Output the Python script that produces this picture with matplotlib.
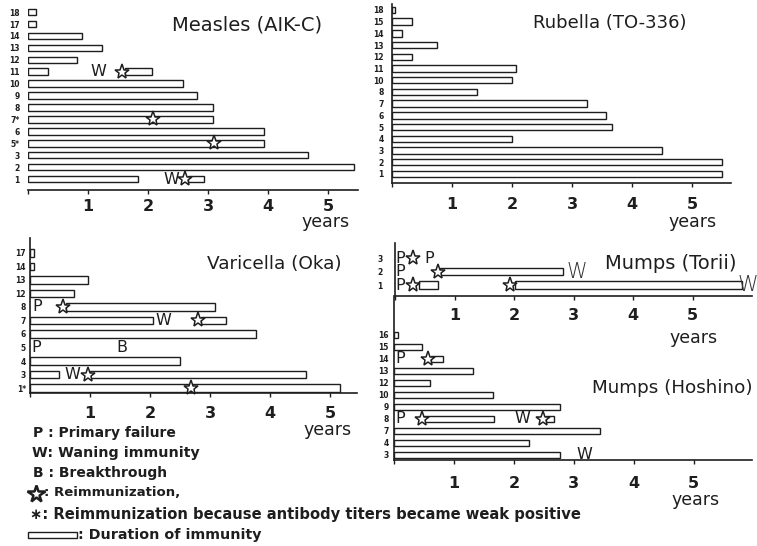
import matplotlib
matplotlib.use('Agg')
import matplotlib.pyplot as plt
from matplotlib.patches import Rectangle
from matplotlib.lines import Line2D

# ---------------- data ----------------
year_ticks = [0, 1, 2, 3, 4, 5]
year_labels = ['', '1', '2', '3', '4', '5']

# Measles (AIK-C) - rows listed top to bottom
measles_rows = ['18', '17', '14', '13', '12', '11', '10', '9', '8', '7*', '6', '5*', '3', '2', '1']
measles_bars = [('18', 0, 0.14), ('17', 0, 0.14), ('14', 0, 0.90), ('13', 0, 1.23),
                ('12', 0, 0.82), ('11', 0, 0.33), ('11', 1.62, 2.06), ('10', 0, 2.58),
                ('9', 0, 2.82), ('8', 0, 3.09), ('7*', 0, 3.09), ('6', 0, 3.93),
                ('5*', 0, 3.93), ('3', 0, 4.67), ('2', 0, 5.43), ('1', 0, 1.84),
                ('1', 2.67, 2.93)]
measles_stars = [('11', 1.56), ('7*', 2.08), ('5*', 3.10), ('1', 2.62)]
measles_letters = [('11', 1.17, 'W'), ('1', 2.39, 'W')]

# Rubella (TO-336)
rubella_rows = ['18', '15', '14', '13', '12', '11', '10', '8', '7', '6', '5', '4', '3', '2', '1']
rubella_bars = [('18', 0, 0.05), ('15', 0, 0.33), ('14', 0, 0.16), ('13', 0, 0.75),
                ('12', 0, 0.33), ('11', 0, 2.07), ('10', 0, 2.00), ('8', 0, 1.41),
                ('7', 0, 3.25), ('6', 0, 3.56), ('5', 0, 3.67), ('4', 0, 2.00),
                ('3', 0, 4.50), ('2', 0, 5.50), ('1', 0, 5.50)]

# Varicella (Oka)
varicella_rows = ['17', '14', '13', '12', '8', '7', '6', '5', '4', '3', '1*']
varicella_bars = [('17', 0, 0.06), ('14', 0, 0.06), ('13', 0, 0.97), ('12', 0, 0.73),
                  ('8', 0.60, 3.08), ('7', 0, 2.05), ('7', 2.85, 3.26), ('6', 0, 3.77),
                  ('4', 0, 2.50), ('3', 0, 0.49), ('3', 1.00, 4.60), ('1*', 0, 5.17)]
varicella_stars = [('8', 0.55), ('7', 2.80), ('3', 0.96), ('1*', 2.68)]
varicella_letters = [('8', 0.12, 'P'), ('7', 2.22, 'W'), ('5', 0.11, 'P'),
                     ('5', 1.53, 'B'), ('3', 0.71, 'W')]

# Mumps (Torii)
torii_rows = ['3', '2', '1']
torii_bars = [('2', 0.76, 2.82), ('1', 0.40, 0.73), ('1', 2.02, 5.83)]
torii_stars = [('3', 0.31), ('2', 0.73), ('1', 0.31), ('1', 1.93)]
torii_letters = [('3', 0.08, 'P'), ('3', 0.57, 'P'), ('2', 0.08, 'P'), ('1', 0.08, 'P')]
torii_big_w = [('2', 3.06), ('1', 5.93)]

# Mumps (Hoshino)
hoshino_rows = ['16', '15', '14', '13', '12', '10', '9', '8', '7', '4', '3']
hoshino_bars = [('16', 0, 0.06), ('15', 0, 0.46), ('14', 0.61, 0.82), ('13', 0, 1.31),
                ('12', 0, 0.60), ('10', 0, 1.65), ('9', 0, 2.76), ('8', 0.50, 1.66),
                ('8', 2.53, 2.67), ('7', 0, 3.43), ('4', 0, 2.25), ('3', 0, 2.76)]
hoshino_stars = [('14', 0.57), ('8', 0.46), ('8', 2.48)]
hoshino_letters = [('14', 0.11, 'P'), ('8', 0.11, 'P'), ('8', 2.14, 'W'), ('3', 3.17, 'W')]

legend_lines = ['P : Primary failure', 'W: Waning immunity', 'B : Breakthrough',
                ': Reimmunization,',
                '\u2217: Reimmunization because antibody titers became weak positive',
                ': Duration of immunity']

# ---------------- drawing ----------------
W, H = 757, 546
fig = plt.figure(figsize=(W / 100, H / 100), dpi=100)
fig.patch.set_facecolor('white')
INK = '#1e1e1e'
plt.rcParams['font.family'] = ['DejaVu Sans']


def fx(x):
    return x / W


def fy(y):
    return 1 - y / H


def make_axes(left, top, right, bottom):
    return fig.add_axes([fx(left), fy(bottom), (right - left) / W, (bottom - top) / H])


def draw_panel(ax, rows, bars, stars, letters, xmax, ylim, show_left=True,
               label_pad=4, tick_pad=6):
    order = list(reversed(rows))
    idx = {r: i for i, r in enumerate(order)}
    for r, s, e in bars:
        ax.barh(idx[r], e - s, left=s, height=0.55, facecolor='white',
                edgecolor=INK, linewidth=1.0, zorder=2)
    for r, x in stars:
        ax.plot(x, idx[r], marker='*', ms=11, mfc='white', mec=INK, mew=1.1,
                zorder=4, clip_on=False)
    for r, x, t in letters:
        ax.text(x, idx[r], t, ha='center', va='center', fontsize=11.5,
                color=INK, zorder=5, clip_on=False)
    ax.set_xlim(0, xmax)
    ax.set_ylim(*ylim)
    ax.set_yticks(range(len(order)))
    ax.set_yticklabels(order, fontsize=5.5, fontweight='bold', color=INK)
    ax.tick_params(axis='y', length=0, pad=label_pad)
    ax.set_xticks(year_ticks)
    ax.set_xticklabels(year_labels, fontsize=11.5, fontweight='bold', color=INK)
    ax.tick_params(axis='x', direction='out', length=3, width=1.0,
                   pad=tick_pad, colors=INK)
    for s in ['top', 'right']:
        ax.spines[s].set_visible(False)
    ax.spines['left'].set_visible(show_left)
    for s in ['left', 'bottom']:
        ax.spines[s].set_color(INK)
        ax.spines[s].set_linewidth(1.2)
    ax.patch.set_alpha(0)
    return idx


# Measles
ax1 = make_axes(28, 5, 358, 190)
draw_panel(ax1, measles_rows, measles_bars, measles_stars, measles_letters,
           5.5, (-0.92, 14.6), show_left=False, label_pad=6, tick_pad=3.5)

# Rubella
ax2 = make_axes(392, 4, 731, 183)
draw_panel(ax2, rubella_rows, rubella_bars, [], [], 5.65, (-0.77, 14.51),
           label_pad=6, tick_pad=7)

# Varicella
ax3 = make_axes(30, 238, 357, 393)
draw_panel(ax3, varicella_rows, varicella_bars, varicella_stars, varicella_letters,
           5.45, (-0.37, 11.11), label_pad=3, tick_pad=6)

# Mumps (Hoshino) - its left spine reaches up to the Torii axis
ax5 = make_axes(394, 296, 752, 460)
draw_panel(ax5, hoshino_rows, hoshino_bars, hoshino_stars, hoshino_letters,
           5.97, (-0.42, 13.25), label_pad=4, tick_pad=8.5)

# Mumps (Torii)
ax4 = make_axes(395, 243, 752, 296)
tidx = draw_panel(ax4, torii_rows, torii_bars, torii_stars, torii_letters,
                  6.0, (-0.81, 3.11), label_pad=9, tick_pad=6)
for r, x in torii_big_w:
    ax4.text(x, tidx[r], 'W', ha='center', va='center', fontsize=15,
             fontweight='light', color='#333333', clip_on=False, zorder=5)

# titles
title_kw = dict(color=INK, va='center', ha='left')
fig.text(fx(172), fy(25), 'Measles (AIK-C)', fontsize=14, **title_kw)
fig.text(fx(533), fy(23), 'Rubella (TO-336)', fontsize=13, **title_kw)
fig.text(fx(207), fy(264), 'Varicella (Oka)', fontsize=13.3, **title_kw)
fig.text(fx(605), fy(263), 'Mumps (Torii)', fontsize=14, **title_kw)
fig.text(fx(592), fy(388), 'Mumps (Hoshino)', fontsize=13.2, **title_kw)

# "years" labels
years_kw = dict(fontsize=12.5, color=INK, ha='center', va='center')
for x, y in [(326, 222), (693, 222), (328, 430), (694, 338), (696, 500)]:
    fig.text(fx(x), fy(y), 'years', **years_kw)

# legend
leg_kw = dict(fontweight='bold', color=INK, ha='left', va='center')
fig.text(fx(33), fy(433), legend_lines[0], fontsize=10, **leg_kw)
fig.text(fx(32), fy(453), legend_lines[1], fontsize=10.3, **leg_kw)
fig.text(fx(33), fy(473), legend_lines[2], fontsize=10, **leg_kw)
fig.add_artist(Line2D([fx(36)], [fy(494)], marker='*', ms=13, mfc='white',
                      mec=INK, mew=1.8, transform=fig.transFigure))
fig.text(fx(44), fy(493), legend_lines[3], fontsize=9.5, **leg_kw)
fig.text(fx(30), fy(514), legend_lines[4], fontsize=10.6, **leg_kw)
fig.add_artist(Rectangle((fx(28), fy(538)), (77 - 28) / W, 6 / H,
                         facecolor='white', edgecolor=INK, linewidth=1.0,
                         transform=fig.transFigure))
fig.text(fx(78), fy(535), legend_lines[5], fontsize=10.3, **leg_kw)

fig.savefig('out.png', dpi=100, facecolor='white')
